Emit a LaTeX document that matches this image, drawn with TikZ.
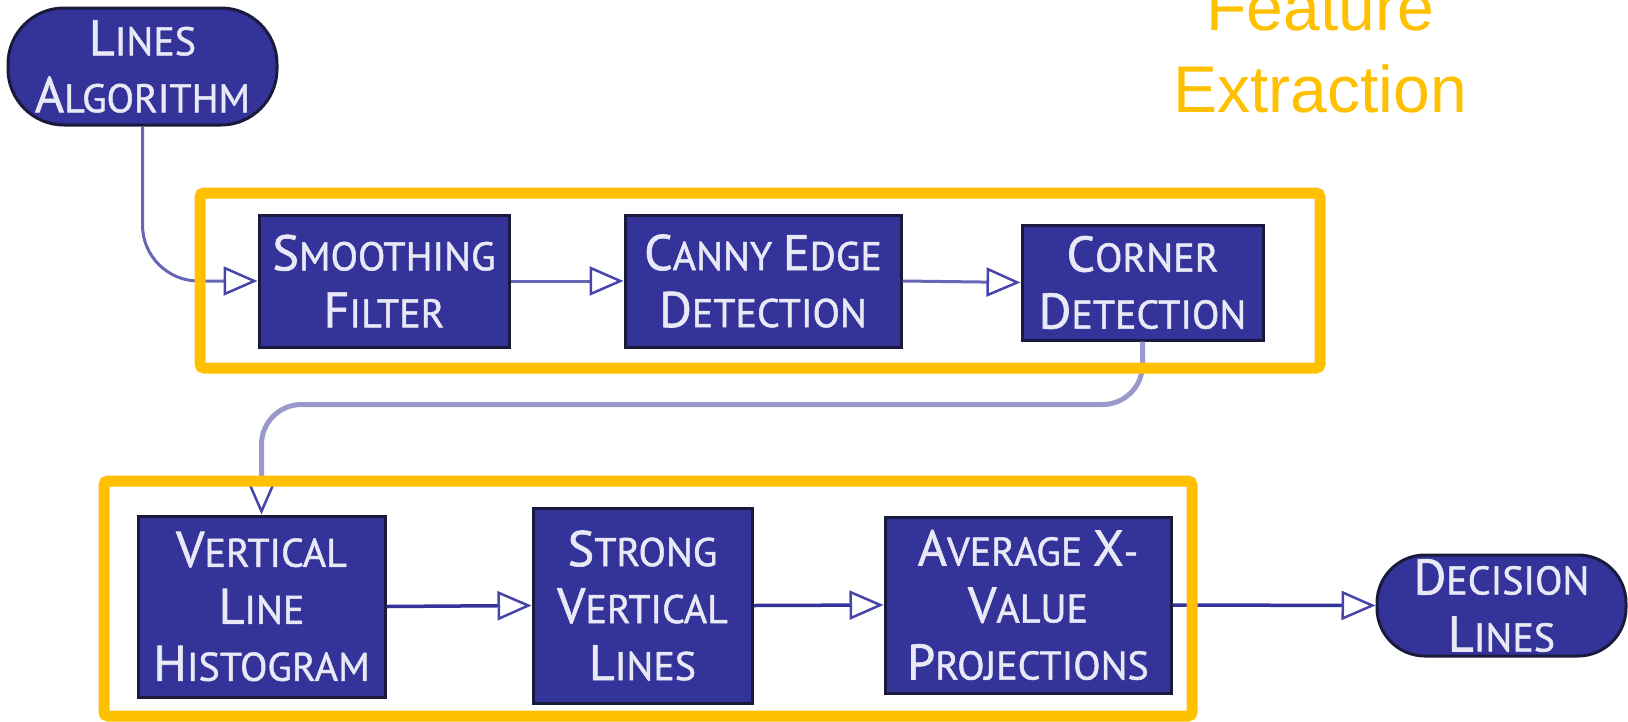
\documentclass[tikz,border=0pt]{standalone}
\usepackage{fontspec}
\setmainfont{Liberation Sans}
\newfontfamily\boxfont[FakeBold=1.2]{PT Sans}
\usetikzlibrary{arrows.meta}

\definecolor{boxblue}{RGB}{51,51,153}
\definecolor{boxedge}{RGB}{26,26,60}
\definecolor{boxtext}{RGB}{232,232,246}
\definecolor{frameyellow}{RGB}{255,192,0}
\definecolor{linkdark}{RGB}{51,51,153}
\definecolor{linkmid}{RGB}{102,102,180}
\definecolor{linklight}{RGB}{153,153,204}
\definecolor{tipblue}{RGB}{70,70,170}

% small-caps look: larger initial capital, smaller remaining capitals
\newcommand\capword[2]{{\fontsize{50}{57}\selectfont #1}#2}

\begin{document}
\begin{tikzpicture}[x=1pt,y=-1pt,
  proc/.style={draw=boxedge, line width=3pt, fill=boxblue, text=boxtext,
    font=\boxfont\fontsize{40}{57}\selectfont, align=center, inner sep=0pt},
  term/.style={proc, rounded corners=#1},
  link/.style={line width=3pt, draw=#1,
    -{Triangle[length=34pt,width=29pt,fill=white,color=tipblue,line width=2.5pt]}},
  frame/.style={draw=frameyellow, line width=11pt, rounded corners=4pt},
  title/.style={text=frameyellow, font=\fontsize{66}{82}\selectfont, anchor=base, inner sep=0pt}]

\useasboundingbox (0,0) rectangle (1628,721);
\clip (0,0) rectangle (1628,721);

% title
\node[title] (tA) at (1320,30) {Feature};
\node[title] (tB) at (1320,112) {Extraction};

% terminators
\node[term=56pt, minimum width=269pt, minimum height=117pt] (la) at (142.5,66.5)
  {\capword{L}{INES}\\\capword{A}{LGORITHM}};
\node[term=48pt, minimum width=249pt, minimum height=101pt] (dl) at (1501.5,605.5)
  {\capword{D}{ECISION}\\\capword{L}{INES}};

% top row of processing steps
\node[proc, minimum width=250pt, minimum height=132pt] (sf) at (384,281)
  {\capword{S}{MOOTHING}\\\capword{F}{ILTER}};
\node[proc, minimum width=276pt, minimum height=132pt] (ce) at (763,281)
  {\capword{C}{ANNY} \capword{E}{DGE}\\\capword{D}{ETECTION}};
\node[proc, minimum width=241pt, minimum height=115pt] (cd) at (1142.5,282.5)
  {\capword{C}{ORNER}\\\capword{D}{ETECTION}};

% bottom row of processing steps
\node[proc, minimum width=247pt, minimum height=181pt] (vlh) at (261.5,606.5)
  {\capword{V}{ERTICAL}\\\capword{L}{INE}\\\capword{H}{ISTOGRAM}};
\node[proc, minimum width=219pt, minimum height=195pt] (svl) at (642.5,605.5)
  {\capword{S}{TRONG}\\\capword{V}{ERTICAL}\\\capword{L}{INES}};
\node[proc, minimum width=286pt, minimum height=176pt] (avp) at (1028,605)
  {\capword{A}{VERAGE} \capword{X}{-}\\\capword{V}{ALUE}\\\capword{P}{ROJECTIONS}};

% connectors
\draw[link=linkmid, rounded corners=56pt] (la.south) |- (sf.west);
\draw[link=linkmid] (sf.east) -- (ce.west);
\draw[link=linkmid] (ce.east) -- (cd.west);
\draw[link=linklight, line width=5pt, rounded corners=40pt]
  (cd.south) -- ++(0,63) -| (vlh.north);
\draw[link=linkdark, line width=3.5pt] (vlh.east) -- (svl.west);
\draw[link=linkdark, line width=3.5pt] (svl.east) -- (avp.west);
\draw[link=linkdark, line width=3.5pt] (avp.east) -- (dl.west);

% yellow grouping frames
\draw[frame] (200,193) rectangle (1320,368);
\draw[frame] (104,481) rectangle (1192,716);
\end{tikzpicture}
\end{document}
